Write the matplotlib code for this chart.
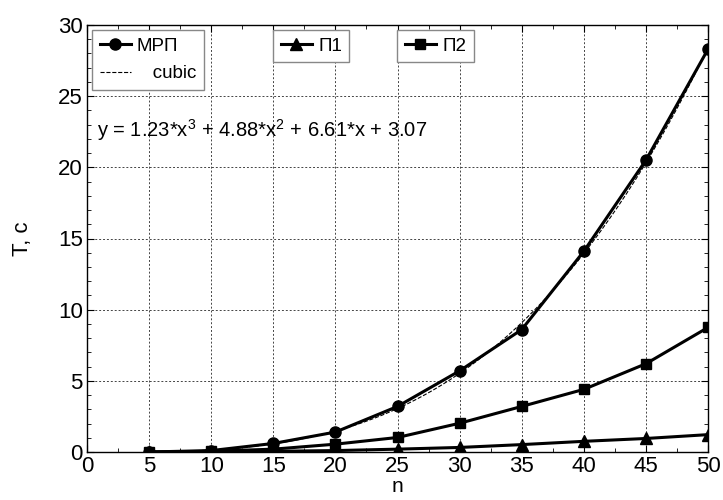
import numpy as np
import matplotlib
matplotlib.use("Agg")
import matplotlib.pyplot as plt
from matplotlib.ticker import MultipleLocator

plt.rcParams['font.family'] = ['Liberation Sans', 'DejaVu Sans']
plt.rcParams['mathtext.fontset'] = 'custom'
plt.rcParams['mathtext.rm'] = 'Liberation Sans'
plt.rcParams['mathtext.it'] = 'Liberation Sans'

n = [5, 10, 15, 20, 25, 30, 35, 40, 45, 50]
t_mrp = [0.0, 0.1, 0.6, 1.4, 3.2, 5.7, 8.6, 14.1, 20.5, 28.3]
t_p1 = [0.0, 0.02, 0.05, 0.1, 0.2, 0.32, 0.52, 0.75, 0.95, 1.22]
t_p2 = [0.0, 0.05, 0.2, 0.55, 1.02, 2.02, 3.2, 4.4, 6.2, 8.75]

# cubic fit on centred/scaled n (as in the basic fitting tool)
x = np.array(n, dtype=float)
mu, sd = x.mean(), x.std(ddof=1)
coef = np.polyfit((x - mu) / sd, t_mrp, 3)
xf = np.linspace(5, 50, 200)
yf = np.polyval(coef, (xf - mu) / sd)

fig = plt.figure(figsize=(7.23, 5.0), dpi=100)
AW, AH = 621, 427
ax = fig.add_axes([87 / 723, 48 / 500, AW / 723, AH / 500])

l_mrp, = ax.plot(n, t_mrp, '-o', color='black', lw=2.2, ms=8, label='МРП')
l_fit, = ax.plot(xf, yf, '--', color='black', lw=0.8, label='   cubic')
l_p1, = ax.plot(n, t_p1, '-^', color='black', lw=2.2, ms=8, label='П1')
l_p2, = ax.plot(n, t_p2, '-s', color='black', lw=2.2, ms=7, label='П2')

ax.set_xlim(0, 50)
ax.set_ylim(0, 30)
ax.xaxis.set_major_locator(MultipleLocator(5))
ax.xaxis.set_minor_locator(MultipleLocator(2.5))
ax.yaxis.set_major_locator(MultipleLocator(5))
ax.yaxis.set_minor_locator(MultipleLocator(1))
ax.tick_params(which='both', direction='in', top=True, right=True, labelsize=16)
ax.tick_params(which='major', length=5)
ax.tick_params(axis='x', which='major', pad=3)
ax.tick_params(axis='y', which='major', pad=3)
ax.tick_params(which='minor', length=3)
ax.grid(True, which='major', linestyle=(0, (2, 2)), color='#444444', lw=0.7)
for s in ax.spines.values():
    s.set_linewidth(1)

ax.set_xlabel('n', fontsize=15, labelpad=0)
ax.set_ylabel('T, c', fontsize=16, labelpad=18)

ax.text(10 / AW, 1 - 105 / AH, r'y = 1.23*x$^3$ + 4.88*x$^2$ + 6.61*x + 3.07',
        transform=ax.transAxes, fontsize=14.5, va='center')

lkw = dict(fontsize=13.5, fancybox=False, framealpha=1, edgecolor='#888888',
           handlelength=1.7, handletextpad=0.3, borderpad=0.4, labelspacing=0.55,
           borderaxespad=0, loc='upper left')
leg1 = ax.legend(handles=[l_mrp, l_fit], bbox_to_anchor=(5 / AW, 1 - 5 / AH), **lkw)
ax.add_artist(leg1)
leg2 = ax.legend(handles=[l_p1], bbox_to_anchor=(186 / AW, 1 - 5 / AH), **lkw)
ax.add_artist(leg2)
ax.legend(handles=[l_p2], bbox_to_anchor=(310 / AW, 1 - 5 / AH), **lkw)

fig.savefig('out.png', dpi=100)
